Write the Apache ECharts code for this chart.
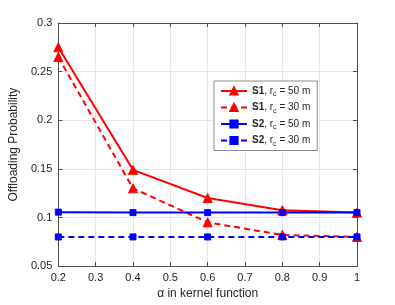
<!DOCTYPE html>
<html><head><meta charset="utf-8">
<script src="https://cdn.jsdelivr.net/npm/echarts@6/dist/echarts.min.js"></script>
<style>html,body{margin:0;padding:0;background:#fff}#c{width:395px;height:305px}</style>
</head><body><div id="c"></div>
<script>
const alphas = [0.2, 0.4, 0.6, 0.8, 1.0];
const s1_rc50 = [0.275, 0.149, 0.120, 0.1075, 0.105];
const s1_rc30 = [0.265, 0.130, 0.095, 0.082, 0.080];
const s2_rc50 = [0.1055, 0.105, 0.105, 0.105, 0.105];
const s2_rc30 = [0.080, 0.080, 0.080, 0.080, 0.080];
const seriesNames = ['S1|50', 'S1|30', 'S2|50', 'S2|30'];
const xLabel = '\u03b1 in kernel function';
const yLabel = 'Offloading Probability';

const FONT = '"Liberation Sans", Arial, sans-serif';
const axisCol = '#4d4d4d';
const textCol = '#262626';
function pts(v){ return alphas.map((a,i)=>[a, v[i]]); }
function mk(name, data, color, dashed, symbol, size){
  return {
    name, type:'line', data: pts(data),
    symbol, symbolSize: size,
    lineStyle:{color, width:2, type: dashed ? [6,4] : 'solid'},
    itemStyle:{color, borderColor: color, borderWidth:1},
    emphasis:{disabled:true}, animation:false, z: 3
  };
}
const chart = echarts.init(document.getElementById('c'), null, {renderer:'canvas'});
const axisCommon = {
  axisLine:{show:true, lineStyle:{color:axisCol, width:1}},
  axisTick:{show:true, inside:true, length:4, lineStyle:{color:axisCol}},
};
chart.setOption({
  animation:false,
  textStyle:{fontFamily:FONT},
  grid:{left:52, right:38, top:23, bottom:37, containLabel:false},
  legend:{
    left:214, top:81, orient:'vertical',
    backgroundColor:'#fff', borderColor:'#8c8c8c', borderWidth:1,
    padding:[3,7,3,6], itemGap:2.5, itemWidth:26, itemHeight:9,
    data: seriesNames,
    formatter: function(n){ const p=n.split('|'); return '{b|'+p[0]+'}{t|, r}{s|c}{t| = '+p[1]+' m}'; },
    textStyle:{fontFamily:FONT, fontSize:10, color:textCol, lineHeight:14,
      rich:{b:{fontWeight:'bold', fontSize:10, fontFamily:FONT, color:textCol, lineHeight:14},
            t:{fontSize:10, fontFamily:FONT, color:textCol, lineHeight:14},
            s:{fontSize:7, fontFamily:FONT, color:textCol, lineHeight:7, verticalAlign:'bottom'}}}
  },
  xAxis:[{
    type:'value', min:0.2, max:1.0, interval:0.1, position:'bottom',
    name:xLabel, nameLocation:'middle', nameGap:21.5,
    nameTextStyle:{fontSize:12, color:textCol, fontFamily:FONT},
    axisLabel:{fontSize:11, color:textCol, margin:6, formatter:v=>String(Math.round(v*10)/10)},
    splitLine:{show:true, lineStyle:{color:'#e6e6e6', width:1}},
    ...axisCommon
  },{
    type:'value', min:0.2, max:1.0, interval:0.1, position:'top',
    axisLabel:{show:false}, splitLine:{show:false}, ...axisCommon
  }],
  yAxis:[{
    type:'value', min:0.05, max:0.3, interval:0.05, position:'left',
    name:yLabel, nameLocation:'middle', nameGap:32, nameRotate:90,
    nameTextStyle:{fontSize:12, color:textCol, fontFamily:FONT},
    axisLabel:{fontSize:11, color:textCol, margin:6, formatter:v=>String(Math.round(v*100)/100)},
    splitLine:{show:true, lineStyle:{color:'#e6e6e6', width:1}},
    ...axisCommon
  },{
    type:'value', min:0.05, max:0.3, interval:0.05, position:'right',
    axisLabel:{show:false}, splitLine:{show:false}, ...axisCommon
  }],
  series:[
    mk(seriesNames[0], s1_rc50, '#ff0000', false, 'triangle', 9),
    mk(seriesNames[1], s1_rc30, '#ff0000', true, 'triangle', 9),
    mk(seriesNames[2], s2_rc50, '#0000ff', false, 'rect', 6),
    mk(seriesNames[3], s2_rc30, '#0000ff', true, 'rect', 6)
  ]
});
</script></body></html>
